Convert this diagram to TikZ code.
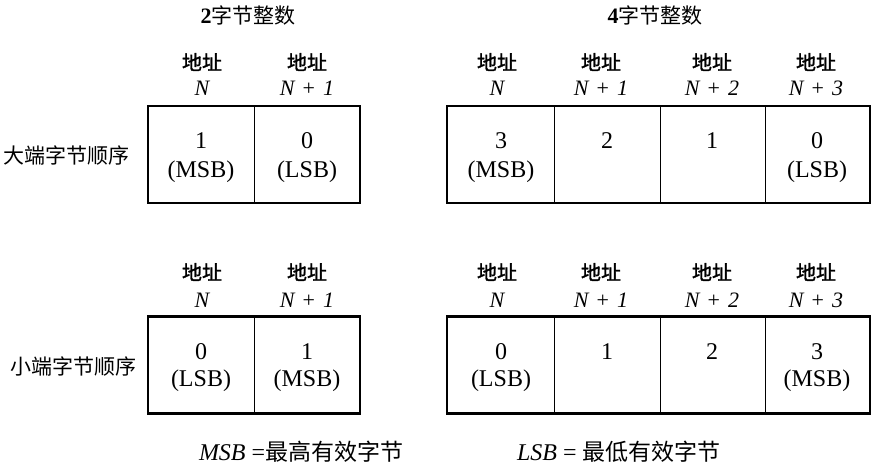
\documentclass[tikz,border=0pt]{standalone}
\usepackage{fontspec}
\setmainfont{Liberation Serif}
\newfontfamily\cjk{Noto Sans CJK SC}
\newfontfamily\cjkm[FakeBold=1.4]{Noto Sans CJK SC}
\newcommand{\nsp}{\hspace{0.37em}}
\begin{document}
\begin{tikzpicture}[x=1pt,y=-1pt,
  every node/.style={inner sep=0pt, outer sep=0pt},
  rowlabel/.style={font=\cjk\fontsize{21}{24}\selectfont},
  titlelabel/.style={font=\fontsize{22}{24}\selectfont},
  addr/.style={font=\cjkm\fontsize{20}{24}\selectfont},
  addrn/.style={font=\fontsize{22}{24}\selectfont},
  num/.style={font=\fontsize{24}{26}\selectfont},
  legend/.style={font=\fontsize{24}{26}\selectfont, anchor=west},
  cell/.style={draw, line width=0.8pt, minimum height=97pt, inner sep=0pt},
  frame/.style={draw, line width=2.2pt}
]
\useasboundingbox (0,0) rectangle (872,465);

% titles
\node[titlelabel] (t2) at (248,15) {\textbf{2}{\cjk\fontsize{21}{24}\selectfont 字节整数}};
\node[titlelabel] (t4) at (655,15) {\textbf{4}{\cjk\fontsize{21}{24}\selectfont 字节整数}};

% row labels
\node[rowlabel, anchor=east] (big) at (129,155) {大端字节顺序};
\node[rowlabel, anchor=east] (little) at (136,366) {小端字节顺序};

% ---------- top row ----------
\node[cell, minimum width=106pt] (a1) at (201,154.5) {};
\node[cell, minimum width=106pt] (a2) at (307,154.5) {};
\draw[frame] (a1.north west) rectangle (a2.south east);

\node[cell, minimum width=107pt] (b1) at (500.5,154.5) {};
\node[cell, minimum width=106pt] (b2) at (607,154.5) {};
\node[cell, minimum width=105pt] (b3) at (712.5,154.5) {};
\node[cell, minimum width=105pt] (b4) at (817.5,154.5) {};
\draw[frame] (b1.north west) rectangle (b4.south east);

% top headers
\node[addr] (ha1) at (202,62) {地址};
\node[addrn] (na1) at (202,88) {\itshape N};
\node[addrn] (na2) at (307,88) {{\itshape N}\nsp+\nsp{\itshape 1}};
\node[addr] (ha2) at (307,62) {地址};
\node[addr] (hb1) at (497,62) {地址};
\node[addrn] (nb1) at (497,88) {\itshape N};
\node[addr] (hb2) at (601,62) {地址};
\node[addrn] (nb2) at (601,88) {{\itshape N}\nsp+\nsp{\itshape 1}};
\node[addr] (hb3) at (712,62) {地址};
\node[addrn] (nb3) at (712,88) {{\itshape N}\nsp+\nsp{\itshape 2}};
\node[addr] (hb4) at (816,62) {地址};
\node[addrn] (nb4) at (816,88) {{\itshape N}\nsp+\nsp{\itshape 3}};

% top contents
\node[num] (va1) at (201,141) {1};
\node[num] (la1) at (201,172) {(MSB)};
\node[num] (va2) at (307,141) {0};
\node[num] (la2) at (307,172) {(LSB)};
\node[num] (vb1) at (501,141) {3};
\node[num] (lb1) at (501,172) {(MSB)};
\node[num] (vb2) at (607,141) {2};
\node[num] (vb3) at (712,141) {1};
\node[num] (vb4) at (817,141) {0};
\node[num] (lb4) at (817,172) {(LSB)};

% ---------- bottom row ----------
\node[cell, minimum width=106pt] (c1) at (201,365) {};
\node[cell, minimum width=106pt] (c2) at (307,365) {};
\draw[frame] (c1.north west) rectangle (c2.south east);

\node[cell, minimum width=107pt] (d1) at (500.5,365) {};
\node[cell, minimum width=106pt] (d2) at (607,365) {};
\node[cell, minimum width=105pt] (d3) at (712.5,365) {};
\node[cell, minimum width=105pt] (d4) at (817.5,365) {};
\draw[frame] (d1.north west) rectangle (d4.south east);

% bottom headers
\node[addr] (hc1) at (202,272) {地址};
\node[addrn] (nc1) at (202,300) {\itshape N};
\node[addr] (hc2) at (307,272) {地址};
\node[addrn] (nc2) at (307,300) {{\itshape N}\nsp+\nsp{\itshape 1}};
\node[addr] (hd1) at (497,272) {地址};
\node[addrn] (nd1) at (497,300) {\itshape N};
\node[addr] (hd2) at (601,272) {地址};
\node[addrn] (nd2) at (601,300) {{\itshape N}\nsp+\nsp{\itshape 1}};
\node[addr] (hd3) at (712,272) {地址};
\node[addrn] (nd3) at (712,300) {{\itshape N}\nsp+\nsp{\itshape 2}};
\node[addr] (hd4) at (816,272) {地址};
\node[addrn] (nd4) at (816,300) {{\itshape N}\nsp+\nsp{\itshape 3}};

% bottom contents
\node[num] (vc1) at (201,352) {0};
\node[num] (lc1) at (201,381) {(LSB)};
\node[num] (vc2) at (307,352) {1};
\node[num] (lc2) at (307,381) {(MSB)};
\node[num] (vd1) at (501,352) {0};
\node[num] (ld1) at (501,381) {(LSB)};
\node[num] (vd2) at (607,352) {1};
\node[num] (vd3) at (712,352) {2};
\node[num] (vd4) at (817,352) {3};
\node[num] (ld4) at (817,381) {(MSB)};

% legend
\node[legend] (msb) at (199,452) {\textit{MSB} ={\cjk\fontsize{23}{26}\selectfont 最高有效字节}};
\node[legend] (lsb) at (517,452) {\textit{LSB} = {\cjk\fontsize{23}{26}\selectfont 最低有效字节}};
\end{tikzpicture}
\end{document}
